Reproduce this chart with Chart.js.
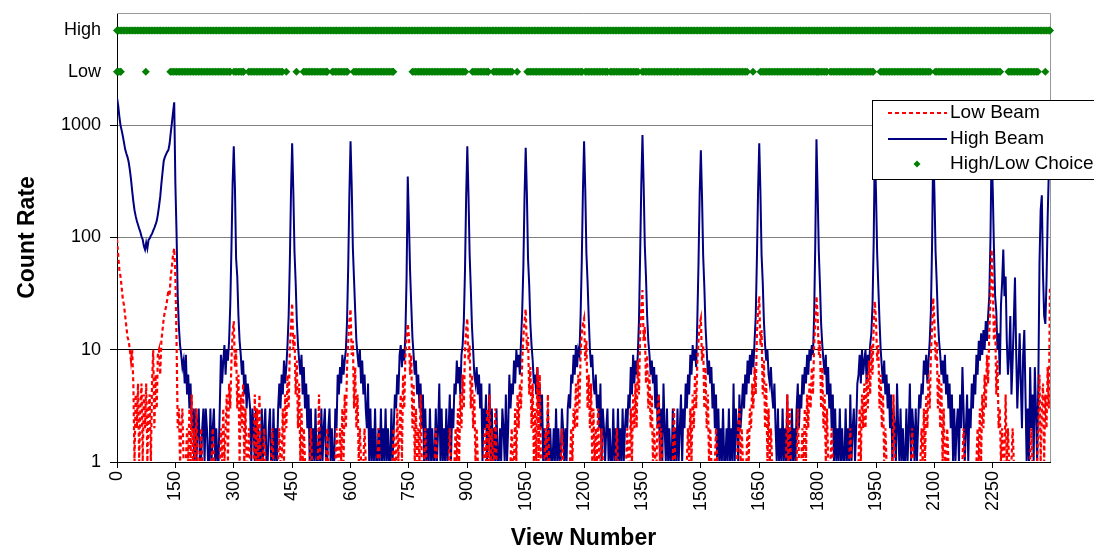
<!DOCTYPE html>
<html>
<head>
<meta charset="utf-8">
<title>Count Rate vs View Number</title>
<script src="https://cdn.jsdelivr.net/npm/chart.js@4.4.1/dist/chart.umd.min.js"></script>
<style>
  html, body { margin: 0; padding: 0; background: #fff; overflow: hidden; }
  canvas { display: block; }
</style>
</head>
<body>
<canvas id="countChart" width="1094" height="550"></canvas>
<script>
// one value every 3 views, 50 values per row = 150 views
const viewStep = 3;
const viewTicks = [0, 150, 300, 450, 600, 750, 900, 1050, 1200, 1350, 1500, 1650, 1800, 1950, 2100, 2250];
const lastView = 2397;
const seriesNames = ['Low Beam', 'High Beam', 'High/Low Choice'];
const countTicks = [1, 10, 100, 1000];
const lowLevel = 3000;   // where the "Low" choice row sits
const highLevel = 7000;  // where the "High" choice row sits

// Low Beam count rate
const lowBeam = [
  97,70,52,45,36,28,25,20,16,13, 12,10,8,10,5,1,4,2,5,1, 3,5,1,4,2,5,1,3,4,1, 5,10,2,6,3,9,10,6,12,15, 19,22,24,28,34,30,45,55,70,80,
  45,12,2,3,1,2,3,1,1,1, 2,1,3,1,4,1,2,1,3,1, 1,1,2,1,1,1,1,1,1,1, 1,1,2,1,1,1,1,1,1,2, 1,3,1,2,4,1,5,3,8,14,
  18,7,10,3,6,1,4,2,5,1, 3,1,1,2,1,1,1,1,4,1, 3,1,4,1,1,1,2,1,1,1, 1,1,1,2,1,1,1,1,1,2, 1,1,3,1,4,2,6,3,10,16,
  26,10,14,4,8,2,5,1,3,1, 2,1,1,1,1,1,2,1,1,1, 1,1,1,4,1,1,1,1,1,1, 2,1,1,1,1,1,1,1,2,1, 1,2,1,3,1,4,2,7,12,18,
  23,9,12,3,7,2,4,1,2,1, 1,1,2,1,1,1,1,1,1,1, 1,1,1,1,2,1,1,1,1,1, 1,1,1,1,1,1,1,2,1,1, 3,1,2,4,1,6,3,9,13,17,
  13,6,9,2,5,1,3,1,2,1, 4,1,1,1,2,1,1,1,1,1, 1,1,1,2,1,1,1,1,1,1, 1,1,1,1,1,2,1,1,1,1, 2,1,3,1,4,2,6,3,10,15,
  19,8,11,3,6,2,4,1,2,1, 1,1,1,1,1,2,1,3,1,4, 1,2,1,1,3,1,1,1,1,1, 1,1,1,1,1,1,1,1,2,1, 1,3,1,4,2,5,3,8,13,18,
  23,10,13,4,7,2,5,1,3,1, 7,1,6,1,1,1,1,2,1,4, 1,1,1,1,1,1,1,1,1,1, 1,2,1,1,1,1,1,1,1,2, 1,3,2,5,2,6,3,9,14,17,
  19,8,12,3,6,2,5,1,3,1, 2,1,3,1,1,2,1,1,1,1, 1,1,1,1,1,1,1,1,2,1, 1,1,1,1,1,1,1,2,1,1, 3,1,4,2,5,2,8,4,14,24,
  34,12,16,5,9,3,6,2,4,1, 2,1,1,3,4,1,2,1,1,1, 1,1,1,1,1,1,1,3,1,1, 1,1,1,1,1,1,1,1,1,2, 1,3,1,4,2,6,3,8,12,17,
  19,8,11,3,7,2,4,1,2,1, 1,1,1,2,1,1,1,1,1,1, 1,1,1,1,1,1,1,1,1,1, 1,1,2,3,1,2,1,1,1,1, 2,1,3,2,5,3,7,4,14,22,
  30,11,15,4,8,2,5,1,3,1, 2,1,1,1,1,1,1,1,1,1, 1,1,1,1,4,1,3,1,1,1, 1,1,1,3,1,1,1,2,1,3, 1,4,2,5,3,7,4,11,18,30,
  20,9,12,3,7,2,4,1,3,1, 1,1,2,1,1,1,1,1,1,1, 1,1,1,1,1,1,1,1,2,1, 1,1,1,1,1,1,3,1,4,2, 5,2,6,3,8,4,11,6,16,27,
  18,8,11,3,6,2,4,1,2,1, 1,1,1,1,1,4,1,1,1,1, 1,1,1,1,1,1,1,1,1,1, 1,2,1,1,1,1,1,1,1,2, 1,3,1,4,2,6,3,9,16,29,
  18,8,12,3,6,2,5,1,3,1, 1,2,1,1,1,1,1,1,1,1, 1,1,1,1,1,2,1,1,1,1, 1,1,1,1,1,1,1,2,1,3, 1,4,2,6,3,9,5,14,30,78,
  40,12,20,4,8,2,3,1,2,1, 1,4,1,2,1,1,1,2,1,1, 1,1,1,1,1,1,1,1,1,1, 1,1,1,2,1,1,1,1,1,2, 6,1,3,5,1,4,2,7,3,36
];

// High Beam count rate
const highBeam = [
  1760,1500,1200,1000,900,800,700,610,560,520, 470,400,330,260,210,175,155,140,130,120, 112,102,96,84,78,90,80,95,98,104, 108,115,122,130,140,160,190,230,300,380, 480,520,550,580,600,680,850,1050,1300,1600,
  300,110,30,16,11,9,7,8,5,9, 4,6,3,5,2,3,1,3,1,2, 3,1,1,2,3,1,3,2,1,1, 3,1,2,3,1,2,1,1,3,9, 5,8,11,6,10,8,12,25,80,300,
  650,280,65,45,20,12,9,6,8,4, 6,3,5,4,3,1,3,2,1,3, 1,2,1,1,3,1,2,3,1,1, 2,3,1,1,3,1,2,1,3,5, 3,6,4,8,5,7,11,20,60,250,
  690,260,75,40,18,11,8,6,9,4, 7,3,5,2,4,1,3,1,2,1, 3,1,1,2,1,3,1,2,3,1, 1,2,3,1,2,1,1,3,2,6, 4,7,5,9,6,8,10,18,55,240,
  720,290,80,42,22,12,9,7,10,5, 8,4,6,3,2,5,1,3,1,2, 1,3,1,1,2,1,3,1,2,1, 3,1,2,1,1,3,1,2,4,3, 6,4,9,11,7,10,8,14,45,350,
  140,50,25,13,9,6,8,4,6,3, 5,2,4,1,3,1,2,1,3,1, 2,1,1,3,1,2,5,1,3,1, 2,1,3,1,2,4,1,3,2,5, 4,8,5,7,4,9,11,18,50,230,
  650,240,70,35,16,10,6,5,7,4, 6,3,5,1,3,2,4,1,2,5, 1,3,1,2,1,3,1,1,2,1, 3,2,1,4,1,2,6,3,5,4, 8,5,10,7,9,6,12,22,55,230,
  630,250,65,38,17,11,8,5,6,4, 7,3,5,2,4,1,2,1,1,3, 1,2,1,1,2,1,3,1,2,1, 1,3,2,1,2,1,3,4,3,6, 5,9,6,11,7,10,9,20,60,260,
  720,270,72,40,19,10,7,9,5,4, 6,3,4,2,5,1,3,2,1,2, 3,1,2,1,1,3,1,2,1,3, 1,2,1,3,1,2,3,2,4,3, 7,4,9,5,8,6,9,18,70,300,
  820,300,85,45,20,12,9,6,8,5, 7,3,6,2,4,1,3,1,5,2, 1,3,1,2,1,1,3,1,2,1, 3,1,2,4,1,3,2,5,3,6, 4,9,6,11,8,10,7,19,60,250,
  600,230,68,36,16,10,6,8,5,7, 3,5,2,4,1,3,1,2,1,3, 1,1,2,1,3,1,2,1,5,1, 3,2,1,4,2,3,5,3,6,4, 8,5,9,6,10,7,12,20,65,260,
  690,260,70,40,18,11,8,10,6,5, 7,4,3,5,2,1,3,1,2,1, 3,1,2,1,4,1,2,1,3,1, 2,1,3,5,2,4,3,6,4,7, 5,9,6,10,8,11,9,20,90,750,
  260,75,38,17,11,8,6,9,4,7, 3,5,2,4,1,3,1,2,1,3, 1,2,1,1,3,1,2,1,4,1, 2,3,1,2,5,6,9,5,10,6, 8,10,5,9,7,11,14,25,90,680,
  250,72,36,18,10,7,5,8,4,6, 3,5,2,4,1,3,2,1,5,2, 1,3,1,2,1,1,3,1,2,5, 1,3,2,1,3,1,2,4,3,5, 4,8,6,9,5,8,12,22,85,680,
  260,75,40,19,12,9,6,8,5,9, 4,6,3,5,2,4,1,3,1,2, 3,1,4,2,7,3,1,2,4,1, 3,2,5,3,6,4,9,6,12,8, 14,9,15,10,18,12,20,30,95,650,
  260,80,30,22,10,14,6,25,40,78, 30,45,12,6,9,20,4,8,18,44, 10,3,6,14,5,2,9,15,4,1, 3,1,7,2,4,1,7,3,1,5, 60,176,238,47,20,17,40,150,400,700
];

// runs of views where the choice was Low / High
const lowChoiceRuns = [
  [0,10],[74,74],[137,291],[300,325],[338,425],[435,435],[461,461],[479,540],[553,592],[608,710],
  [759,895],[913,954],[967,1015],[1028,1028],[1054,1195],[1203,1260],[1267,1339],[1349,1442],[1447,1498],
  [1503,1619],[1634,1634],[1653,1799],[1802,1824],[1832,1943],[1961,2089],[2102,2269],[2290,2366],[2385,2385]
];
const highChoiceRuns = [[0, 2397]];

const fontFamily = "Arial, 'Liberation Sans', sans-serif";

function toPoints(values) {
  return values.map((v, i) => ({ x: i * viewStep, y: v }));
}

function runsToPoints(runs, level) {
  const pts = [];
  runs.forEach(([a, b]) => {
    for (let v = a; v <= b; v += 4) pts.push({ x: v, y: level });
    if ((b - a) % 4) pts.push({ x: b, y: level });
  });
  return pts;
}

function yLabel(v) {
  if (v === lowLevel) return 'Low';
  if (v === highLevel) return 'High';
  return String(v);
}

// marco gris arriba y a la derecha
const plotFrame = {
  id: 'plotFrame',
  beforeDatasetsDraw(chart) {
    const { ctx, chartArea: a } = chart;
    ctx.save();
    ctx.strokeStyle = '#999';
    ctx.lineWidth = 1;
    ctx.beginPath();
    ctx.moveTo(a.left, Math.round(a.top) + 0.5);
    ctx.lineTo(Math.round(a.right) + 0.5, Math.round(a.top) + 0.5);
    ctx.lineTo(Math.round(a.right) + 0.5, a.bottom);
    ctx.stroke();
    ctx.restore();
  }
};

// leyenda sobre el área del gráfico, como en el original
const legendBox = {
  id: 'legendBox',
  afterDraw(chart) {
    const c = chart.ctx;
    c.save();
    c.fillStyle = '#fff';
    c.fillRect(872.5, 100.5, 240, 79);
    c.strokeStyle = '#000';
    c.lineWidth = 1;
    c.strokeRect(872.5, 100.5, 240, 79);

    c.lineWidth = 2;
    c.strokeStyle = '#ff0000';
    c.setLineDash([4, 3]);
    c.beginPath(); c.moveTo(888, 113); c.lineTo(947, 113); c.stroke();
    c.setLineDash([]);
    c.strokeStyle = '#000080';
    c.beginPath(); c.moveTo(888, 139); c.lineTo(947, 139); c.stroke();
    c.fillStyle = '#008000';
    c.beginPath();
    c.moveTo(917, 160.5); c.lineTo(920.5, 164); c.lineTo(917, 167.5); c.lineTo(913.5, 164);
    c.closePath(); c.fill();

    c.fillStyle = '#000';
    c.font = '19px ' + fontFamily;
    c.textBaseline = 'middle';
    c.fillText(seriesNames[0], 950, 113);
    c.fillText(seriesNames[1], 950, 139);
    c.fillText(seriesNames[2], 950, 164);
    c.restore();
  }
};

new Chart(document.getElementById('countChart'), {
  type: 'line',
  data: {
    datasets: [
      {
        label: seriesNames[0],
        data: toPoints(lowBeam),
        borderColor: '#ff0000',
        borderWidth: 2.2,
        borderDash: [4, 3],
        pointRadius: 0,
        fill: false,
        clip: { left: 0, top: 0, right: 0, bottom: -1 }
      },
      {
        label: seriesNames[1],
        data: toPoints(highBeam),
        borderColor: '#000080',
        borderWidth: 2,
        pointRadius: 0,
        fill: false,
        clip: { left: 0, top: 0, right: 0, bottom: -1 }
      },
      {
        type: 'scatter',
        label: seriesNames[2],
        data: runsToPoints(highChoiceRuns, highLevel).concat(runsToPoints(lowChoiceRuns, lowLevel)),
        pointStyle: 'rectRot',
        pointRadius: 4,
        backgroundColor: '#008000',
        borderWidth: 0,
        showLine: false,
        clip: false
      }
    ]
  },
  options: {
    responsive: false,
    animation: false,
    devicePixelRatio: 1,
    layout: { padding: { left: 0, right: 44, top: 13, bottom: 0 } },
    plugins: {
      legend: { display: false },
      tooltip: { enabled: false }
    },
    scales: {
      x: {
        type: 'linear',
        min: 0,
        max: lastView,
        z: 1,
        afterBuildTicks: s => { s.ticks = viewTicks.map(v => ({ value: v })); },
        afterFit: s => { s.height = 88; s.paddingLeft = 0; s.paddingRight = 0; },
        grid: { drawOnChartArea: false, tickLength: 6, tickColor: '#000' },
        border: { color: '#000', width: 1 },
        ticks: {
          callback: v => String(v),
          minRotation: 90,
          maxRotation: 90,
          autoSkip: false,
          padding: 3,
          color: '#000',
          font: { size: 18, family: fontFamily }
        },
        title: {
          display: true,
          text: 'View Number',
          color: '#000',
          font: { size: 23, weight: 'bold', family: fontFamily, lineHeight: 1 },
          padding: { top: 0, bottom: 0 }
        }
      },
      y: {
        type: 'logarithmic',
        min: 1,
        max: 10000,
        afterBuildTicks: s => { s.ticks = countTicks.concat([lowLevel, highLevel]).map(v => ({ value: v })); },
        afterFit: s => { s.width = 117; s.paddingTop = 0; s.paddingBottom = 0; },
        grid: {
          color: ctx => {
            const v = ctx.tick && ctx.tick.value;
            if (v === 10) return '#000';
            if (v === 100 || v === 1000) return '#808080';
            return 'rgba(0,0,0,0)';
          },
          tickColor: ctx => {
            const v = ctx.tick && ctx.tick.value;
            return countTicks.includes(v) ? '#000' : 'rgba(0,0,0,0)';
          },
          tickLength: 7
        },
        border: { color: '#000', width: 1 },
        ticks: {
          callback: v => yLabel(v),
          autoSkip: false,
          padding: 9,
          color: '#000',
          font: { size: 18, family: fontFamily }
        },
        title: {
          display: true,
          text: 'Count Rate',
          color: '#000',
          font: { size: 23, weight: 'bold', family: fontFamily, lineHeight: 1 },
          padding: { top: 16, bottom: 0 }
        }
      }
    }
  },
  plugins: [plotFrame, legendBox]
});
</script>
</body>
</html>
